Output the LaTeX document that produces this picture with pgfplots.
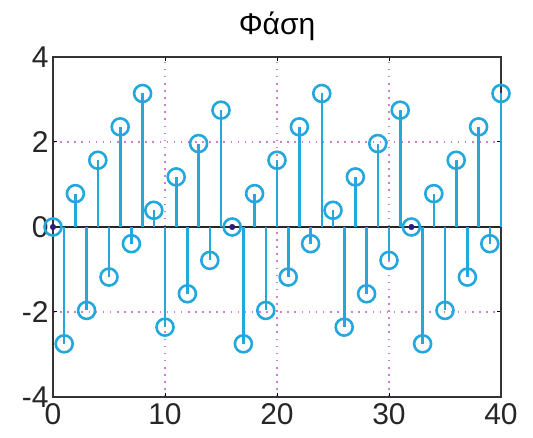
\documentclass[border=0pt]{standalone}
\usepackage{pgfplots}
\pgfplotsset{compat=1.18}
\usepackage{fontspec}
\setmainfont{Liberation Sans}
\definecolor{stemblue}{RGB}{35,168,222}
\definecolor{gridmag}{RGB}{212,125,210}
\definecolor{dotnavy}{RGB}{40,30,130}

\pgfplotstableread{
n phase
0 0
1 -2.7489
2 0.7854
3 -1.9635
4 1.5708
5 -1.1781
6 2.3562
7 -0.3927
8 3.1416
9 0.3927
10 -2.3562
11 1.1781
12 -1.5708
13 1.9635
14 -0.7854
15 2.7489
16 0
17 -2.7489
18 0.7854
19 -1.9635
20 1.5708
21 -1.1781
22 2.3562
23 -0.3927
24 3.1416
25 0.3927
26 -2.3562
27 1.1781
28 -1.5708
29 1.9635
30 -0.7854
31 2.7489
32 0
33 -2.7489
34 0.7854
35 -1.9635
36 1.5708
37 -1.1781
38 2.3562
39 -0.3927
40 3.1416
}\phasetable

\begin{document}
\begin{tikzpicture}
\begin{axis}[
  at={(0,0)}, anchor=south west,
  scale only axis,
  width=448pt, height=340pt,
  xmin=0, xmax=40, ymin=-4, ymax=4,
  xtick={0,10,20,30,40},
  ytick={-4,-2,0,2,4},
  /pgf/number format/assume math mode=true,
  ticklabel style={font=\fontsize{30}{32}\selectfont, text=black!85},
  xticklabel style={yshift=-3pt},
  yticklabel style={xshift=-1pt},
  tick align=inside,
  major tick length=4pt,
  tick style={black, line width=1pt},
  axis line style={black!80, line width=1.6pt},
  grid=major,
  major grid style={gridmag, line width=1.6pt, dash pattern=on 1.6pt off 5.5pt},
  title={Φάση},
  title style={font=\fontsize{30}{32}\selectfont, at={(0.5,1)}, anchor=base, yshift=17pt},
  clip=false,
]
% zero line
\addplot[black!85, line width=1.6pt, forget plot] coordinates {(0,0) (40,0)};
% stems with open circle heads
\addplot[ycomb, stemblue, line width=2.6pt,
  mark=o, mark size=8.5pt, mark options={line width=2.6pt, stemblue}]
  table[x=n, y=phase] {\phasetable};
% samples sitting exactly on zero
\addplot[only marks, mark=*, mark size=2.8pt, dotnavy] coordinates {(0,0) (16,0) (32,0)};
\end{axis}
\pgfresetboundingbox
\path (-53pt,-41pt) rectangle (480pt,397pt);
\end{tikzpicture}
\end{document}
